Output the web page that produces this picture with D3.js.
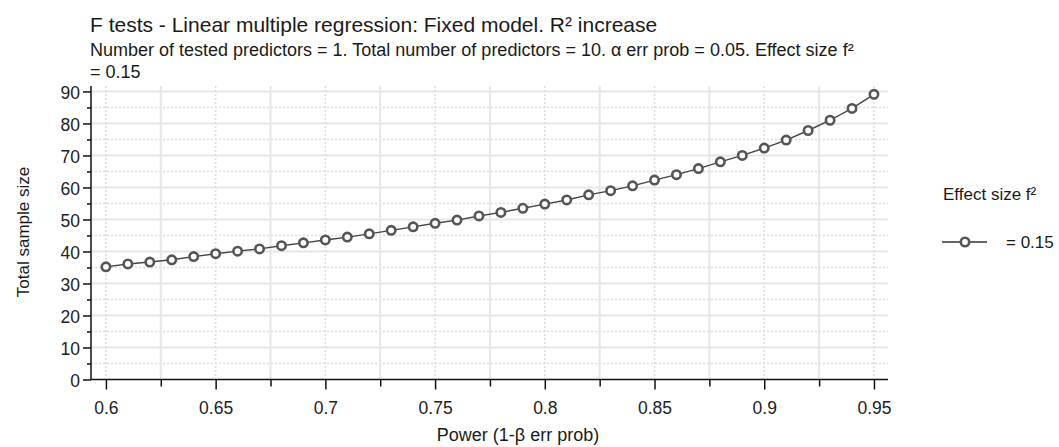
<!DOCTYPE html>
<html>
<head>
<meta charset="utf-8">
<script src="https://cdn.jsdelivr.net/npm/d3@7"></script>
<style>
  html, body { margin: 0; padding: 0; background: #fff; }
  svg { display: block; font-family: "Liberation Sans", Arial, sans-serif; }
</style>
</head>
<body>
<svg id="chart" width="1059" height="447"></svg>
<script>
// ---- data ----
const power = [0.60,0.61,0.62,0.63,0.64,0.65,0.66,0.67,0.68,0.69,0.70,0.71,0.72,0.73,0.74,0.75,0.76,0.77,0.78,0.79,0.80,0.81,0.82,0.83,0.84,0.85,0.86,0.87,0.88,0.89,0.90,0.91,0.92,0.93,0.94,0.95];
const sampleSize = [35.2,36.1,36.7,37.4,38.4,39.3,40.1,40.8,41.8,42.7,43.6,44.5,45.5,46.6,47.7,48.8,49.8,51.1,52.2,53.5,54.8,56.1,57.7,59.0,60.5,62.3,64.0,65.9,68.0,70.0,72.3,74.8,77.8,81.0,84.7,89.1];
const xMajorTicks = [0.6,0.65,0.7,0.75,0.8,0.85,0.9,0.95];
const xMinorTicks = [0.625,0.675,0.725,0.775,0.825,0.875,0.925];
const yMajorTicks = [0,10,20,30,40,50,60,70,80,90];
const yMinorTicks = [5,15,25,35,45,55,65,75,85];
const xTickLabels = ["0.6","0.65","0.7","0.75","0.8","0.85","0.9","0.95"];
const titleText = "F tests - Linear multiple regression: Fixed model. R² increase";
const subtitleLines = ["Number of tested predictors = 1. Total number of predictors = 10. α err prob = 0.05. Effect size f²", "= 0.15"];
const xTitle = "Power (1-β err prob)";
const yTitle = "Total sample size";
const legendTitle = "Effect size f²";
const seriesName = "= 0.15";

// ---- layout ----
const L = 91, R = 888, T = 86, B = 379.5;
const svg = d3.select("#chart");
const x = d3.scaleLinear().domain([0.5932, 0.9564]).range([L, R]);
const y = d3.scaleLinear().domain([0, 91.7]).range([B, T]);

const grid = svg.append("g");
// horizontal gridlines
grid.selectAll("line.hmin").data(yMinorTicks).join("line")
  .attr("x1", L).attr("x2", R).attr("y1", d => y(d)).attr("y2", d => y(d))
  .attr("stroke", "#dcdcdc").attr("stroke-width", 1.5).attr("stroke-dasharray", "2,2");
grid.selectAll("line.hmaj").data(yMajorTicks.filter(d => d > 0)).join("line")
  .attr("x1", L).attr("x2", R).attr("y1", d => y(d)).attr("y2", d => y(d))
  .attr("stroke", "#e6e6e6").attr("stroke-width", 2);
// vertical gridlines
grid.selectAll("line.vmaj").data(xMajorTicks).join("line")
  .attr("y1", T).attr("y2", B).attr("x1", d => x(d)).attr("x2", d => x(d))
  .attr("stroke", "#dcdcdc").attr("stroke-width", 1.5).attr("stroke-dasharray", "2,2");
grid.selectAll("line.vmin").data(xMinorTicks).join("line")
  .attr("y1", T).attr("y2", B).attr("x1", d => x(d)).attr("x2", d => x(d))
  .attr("stroke", "#e6e6e6").attr("stroke-width", 2);

// ---- axes ----
const ax = svg.append("g").attr("font-size", "17.5px").attr("fill", "#222");
// y axis
const yAxis = d3.axisLeft(y).tickValues(yMajorTicks).tickSize(8).tickPadding(3).tickFormat(d3.format("d"));
const gy = svg.append("g").attr("transform", `translate(${L},0)`).call(yAxis);
gy.select(".domain").attr("stroke", "#111").attr("stroke-width", 1.5).attr("d", `M0,${T}V${B}`);
gy.selectAll(".tick line").attr("stroke", "#111").attr("stroke-width", 1.5);
gy.selectAll(".tick text").attr("font-size", "17.5px").attr("fill", "#222")
  .attr("font-family", "Liberation Sans, Arial, sans-serif").attr("dy", "0.42em");
const gyMinor = svg.append("g").attr("transform", `translate(${L},0)`)
  .call(d3.axisLeft(y).tickValues(yMinorTicks).tickSize(4).tickFormat(""));
gyMinor.select(".domain").remove();
gyMinor.selectAll(".tick line").attr("stroke", "#111").attr("stroke-width", 1.5);

// x axis
const xAxis = d3.axisBottom(x).tickValues(xMajorTicks).tickSize(10).tickPadding(12)
  .tickFormat((d, i) => xTickLabels[i]);
const gx = svg.append("g").attr("transform", `translate(0,${B})`).call(xAxis);
gx.select(".domain").attr("stroke", "#111").attr("stroke-width", 1.5).attr("d", `M${L},0H${R}`);
gx.selectAll(".tick line").attr("stroke", "#111").attr("stroke-width", 1.5);
gx.selectAll(".tick text").attr("font-size", "17.5px").attr("fill", "#222")
  .attr("font-family", "Liberation Sans, Arial, sans-serif");
const gxMinor = svg.append("g").attr("transform", `translate(0,${B})`)
  .call(d3.axisBottom(x).tickValues(xMinorTicks).tickSize(7).tickFormat(""));
gxMinor.select(".domain").remove();
gxMinor.selectAll(".tick line").attr("stroke", "#111").attr("stroke-width", 1.5);

// ---- series ----
const pts = power.map((p, i) => [p, sampleSize[i]]);
svg.append("path").datum(pts)
  .attr("fill", "none").attr("stroke", "#444").attr("stroke-width", 1.4)
  .attr("d", d3.line().x(d => x(d[0])).y(d => y(d[1])));
svg.append("g").selectAll("circle").data(pts).join("circle")
  .attr("cx", d => x(d[0])).attr("cy", d => y(d[1])).attr("r", 4.2)
  .attr("fill", "#fff").attr("stroke", "#555").attr("stroke-width", 2.6);

// ---- titles ----
svg.append("text").attr("x", 90).attr("y", 31.5).attr("font-size", "21px").attr("fill", "#1a1a1a").text(titleText);
svg.append("g").selectAll("text").data(subtitleLines).join("text")
  .attr("x", 90).attr("y", (d, i) => 55.5 + i * 22).attr("font-size", "18px").attr("fill", "#1a1a1a").text(d => d);
svg.append("text").attr("x", 518).attr("y", 441).attr("text-anchor", "middle")
  .attr("font-size", "18px").attr("fill", "#1a1a1a").text(xTitle);
svg.append("text").attr("transform", "translate(29,232) rotate(-90)").attr("text-anchor", "middle")
  .attr("font-size", "17px").attr("fill", "#1a1a1a").text(yTitle);

// ---- legend ----
const lg = svg.append("g");
lg.append("text").attr("x", 943).attr("y", 200).attr("font-size", "17px").attr("fill", "#1a1a1a").text(legendTitle);
lg.append("line").attr("x1", 942).attr("x2", 987).attr("y1", 242).attr("y2", 242)
  .attr("stroke", "#666").attr("stroke-width", 2);
lg.append("circle").attr("cx", 965).attr("cy", 242).attr("r", 4.2)
  .attr("fill", "#fff").attr("stroke", "#555").attr("stroke-width", 2.6);
lg.append("text").attr("x", 1006).attr("y", 248).attr("font-size", "17px").attr("fill", "#1a1a1a").text(seriesName);
</script>
</body>
</html>
